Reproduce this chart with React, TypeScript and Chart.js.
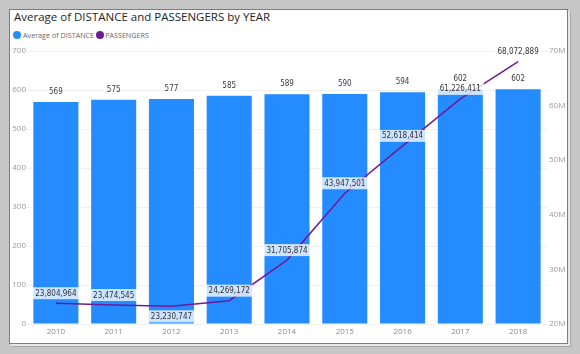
import React, { useEffect, useRef } from "react";
import { Chart, registerables } from "chart.js";

Chart.register(...registerables);

const years = ["2010", "2011", "2012", "2013", "2014", "2015", "2016", "2017", "2018"];
const avgDistance = [569, 575, 577, 585, 589, 590, 594, 602, 602];
const passengers = [23804964, 23474545, 23230747, 24269172, 31705874, 43947501, 52618414, 61226411, 68072889];
const leftTicks = [0, 100, 200, 300, 400, 500, 600, 700];
const rightTicks = [20000000, 30000000, 40000000, 50000000, 60000000, 70000000];

const BAR_COLOR = "#258cff";
const LINE_COLOR = "#6f1a96";
const LABEL_FONT = "'DejaVu Sans Condensed', 'Liberation Sans Narrow', Roboto, sans-serif";
const UI_FONT = "'Segoe UI', 'Open Sans', 'Noto Sans', sans-serif";
const lineLabelBelow = [false, false, true, false, false, false, false, false, false];

const fmt = (v: number) => v.toLocaleString("en-US");

const labelsPlugin = {
  id: "dataLabels",
  afterDatasetsDraw(chart: any) {
    const ctx = chart.ctx;
    ctx.save();
    ctx.font = `8px ${LABEL_FONT}`;
    ctx.textAlign = "center";
    ctx.textBaseline = "middle";
    const barMeta = chart.getDatasetMeta(0);
    barMeta.data.forEach((el: any, i: number) => {
      ctx.fillStyle = "#3a3a3a";
      ctx.fillText(String(avgDistance[i]), el.x, el.y - 10);
    });
    const lineMeta = chart.getDatasetMeta(1);
    lineMeta.data.forEach((el: any, i: number) => {
      const txt = fmt(passengers[i]);
      const w = ctx.measureText(txt).width + 6;
      const h = 12;
      const cy = lineLabelBelow[i] ? el.y + 10 : el.y - 10;
      ctx.fillStyle = "rgba(255,255,255,0.77)";
      ctx.fillRect(el.x - w / 2, cy - h / 2, w, h);
      ctx.fillStyle = "#333333";
      ctx.fillText(txt, el.x, cy + 0.5);
    });
    ctx.restore();
  },
};

export default function App() {
  const ref = useRef<HTMLCanvasElement>(null);
  useEffect(() => {
    if (!ref.current) return;
    const chart = new Chart(ref.current, {
      type: "bar",
      data: {
        labels: years,
        datasets: [
          {
            type: "bar",
            label: "Average of DISTANCE",
            data: avgDistance,
            backgroundColor: BAR_COLOR,
            yAxisID: "y",
            barPercentage: 0.78,
            categoryPercentage: 1,
            order: 2,
          },
          {
            type: "line",
            label: "PASSENGERS",
            data: passengers,
            borderColor: LINE_COLOR,
            borderWidth: 1.5,
            pointRadius: 0,
            tension: 0,
            yAxisID: "y1",
            order: 1,
          } as any,
        ],
      },
      options: {
        animation: false,
        responsive: false,
        maintainAspectRatio: false,
        layout: { padding: { top: 51, bottom: 11, left: 0, right: 0 } },
        plugins: {
          legend: { display: false },
          title: { display: false },
          tooltip: { enabled: false },
        },
        scales: {
          x: {
            grid: { display: false, drawTicks: false },
            border: { display: false },
            ticks: { color: "#8a8a8a", font: { size: 8, family: UI_FONT }, padding: 3, maxRotation: 0 },
            afterFit: (s: any) => { s.height = 19; },
          },
          y: {
            position: "left",
            min: 0,
            max: 700,
            afterBuildTicks: (s: any) => { s.ticks = leftTicks.map((v) => ({ value: v })); },
            grid: { color: "#f0f0f0", drawTicks: false },
            border: { display: false },
            ticks: { color: "#9a9a9a", font: { size: 8, family: UI_FONT }, padding: 1 },
            afterFit: (s: any) => { s.width = 27; },
          },
          y1: {
            position: "right",
            min: 20000000,
            max: 70000000,
            afterBuildTicks: (s: any) => { s.ticks = rightTicks.map((v) => ({ value: v })); },
            grid: { display: false, drawTicks: false },
            border: { display: false },
            ticks: {
              color: "#9a9a9a",
              font: { size: 8, family: UI_FONT },
              padding: 2,
              callback: (v: any) => `${Number(v) / 1000000}M`,
            },
            afterFit: (s: any) => { s.width = 33; },
          },
        },
      },
      plugins: [labelsPlugin],
    } as any);
    return () => chart.destroy();
  }, []);

  return (
    <div style={{ position: "fixed", left: 0, top: 0, width: 580, height: 354, background: "#c6c6c6", overflow: "hidden" }}>
      <div
        style={{
          position: "absolute",
          left: 9,
          top: 9,
          width: 557,
          height: 333,
          background: "#ffffff",
          border: "1px solid #7d7d7d",
          boxShadow: "2px 2px 0 #e6e6e6, 3px 3px 0 #a8a8a8",
        }}
      />
      <div style={{ position: "absolute", left: 14, top: 9, fontFamily: UI_FONT, fontSize: 11.5, color: "#252423", whiteSpace: "nowrap", lineHeight: "16px" }}>
        Average of DISTANCE and PASSENGERS by YEAR
      </div>
      <div style={{ position: "absolute", left: 13, top: 29, fontFamily: UI_FONT, fontSize: 7.2, color: "#666666", whiteSpace: "nowrap", lineHeight: "12px", display: "flex", alignItems: "center" }}>
        <span style={{ display: "inline-block", width: 8, height: 8, borderRadius: 4, background: BAR_COLOR, marginRight: 2 }} />
        <span style={{ marginRight: 2 }}>Average of DISTANCE</span>
        <span style={{ display: "inline-block", width: 8, height: 8, borderRadius: 4, background: LINE_COLOR, marginRight: 1 }} />
        <span>PASSENGERS</span>
      </div>
      <canvas ref={ref} width={580} height={354} style={{ position: "absolute", left: 0, top: 0, width: 580, height: 354 }} />
    </div>
  );
}
